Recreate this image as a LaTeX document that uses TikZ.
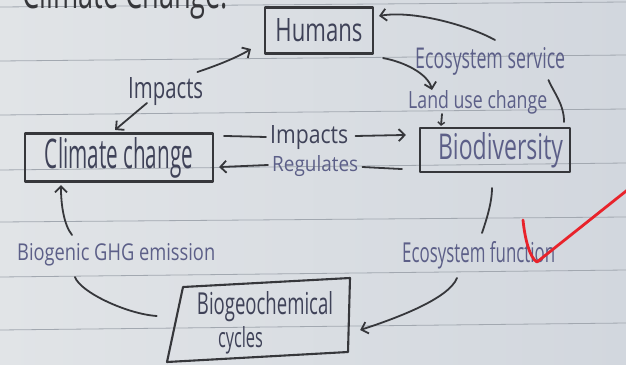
\documentclass[tikz,border=0pt]{standalone}
\usepackage{fontspec}
\setmainfont{Open Sans}
\usetikzlibrary{arrows.meta,calc}
\definecolor{paperL}{HTML}{E1E4E7}
\definecolor{paperR}{HTML}{D2D7DE}
\definecolor{rule}{HTML}{A2A8B0}
\definecolor{ink}{HTML}{36373B}
\definecolor{inkA}{HTML}{3F4258}
\definecolor{inkB}{HTML}{5C5F88}
\definecolor{redpen}{HTML}{E8232B}
\newcommand{\hw}[3]{\resizebox{#1pt}{#2pt}{#3}}
\begin{document}
\begin{tikzpicture}[x=1pt,y=-1pt,line cap=round,line join=round,
  box/.style={draw=ink,line width=2.1pt,rectangle,inner sep=0pt,text=inkA},
  lbl/.style={inner sep=0pt,anchor=base west,text=inkA},
  lblB/.style={lbl,text=inkB},
  conn/.style={draw=ink,line width=1.8pt},
  arr/.style={conn,-{Straight Barb[length=6pt,width=12pt,line width=1.8pt]}}]
\useasboundingbox (0,0) rectangle (626,364);
\begin{scope}
\clip (0,0) rectangle (626,364);
\fill[left color=paperL,right color=paperR] (0,0) rectangle (626,364);
\foreach \a/\b in {7/2,61/55,115/109,170/163,222/217,277/270,330/323}
  \draw[rule,line width=0.8pt] (0,\a) -- (626,\b);

% title (cut off at the top of the page)
\node[lbl,text=ink] (title) at (22,8) {\hw{206}{34}{Climate Change.}};

% boxes
\node[box,minimum width=108pt,minimum height=46pt] (humans) at (319,30.5) {\hw{87}{23}{Humans}};
\node[box,minimum width=188pt,minimum height=48pt] (climate) at (119,157.5) {\hw{148}{31}{Climate change}};
\node[box,minimum width=150pt,minimum height=44pt,text=inkB] (bio) at (495,150) {\hspace*{11pt}\hw{125}{27}{Biodiversity}};
\node[inner sep=0pt,minimum width=170pt,minimum height=75pt,align=center,text=inkA,
  font=\fontsize{10}{33}\selectfont] (bgc) at (265,323)
  {\hw{136}{23}{Biogeochemical}\\\hw{45}{21}{cycles}\hspace*{49pt}};
\draw[ink,line width=2.1pt] (183,287) -- (350,278) -- (348,352) -- (167,362) -- cycle;

% labels
\node[lbl] (imp1) at (128,98) {\hw{75}{21}{Impacts}};
\node[lbl] (imp2) at (270,143) {\hw{78}{18}{Impacts}};
\node[lblB] (reg) at (272,171) {\hw{86}{16}{Regulates}};
\node[lblB] (es) at (415,68) {\hw{150}{21}{Ecosystem service}};
\node[lblB] (lu) at (408,108) {\hw{139}{18}{Land use change}};
\node[lblB] (bge) at (17,260) {\hw{198}{17}{Biogenic GHG emission}};
\node[lblB] (ef) at (402,262) {\hw{153}{21}{Ecosystem function}};

% connectors
\draw[arr] ($(imp1.base east)+(-6,-26)$) .. controls +(18,-6) and +(-15,9) .. ($(humans.south west)+(-13,-5.5)$);
\draw[arr] ($(imp1.base west)+(19,5)$) -- ($(climate.north)+(-4,-2.5)$);

\draw[conn] ($(climate.north east)+(10,3.5)$) -- ($(imp2.base west)+(-4,-6)$);
\draw[arr] ($(imp2.base east)+(7,-7)$) -- ($(bio.north west)+(-13,8)$);

\draw[conn] ($(bio.south west)+(-17,-4)$) -- ($(reg.base east)+(4,-4)$);
\draw[arr] ($(reg.base west)+(-4,-6)$) -- ($(climate.south east)+(5,-15.5)$);

\draw[arr] ($(humans.south east)+(9,3.5)$) .. controls +(22,4) and +(-4,-16) .. ($(lu.base west)+(24,-18)$);
\draw[conn,-{Straight Barb[length=3pt,width=7pt,line width=1.4pt]}] ($(lu.base west)+(34,6)$) -- ($(bio.north west)+(22,-1)$);

\draw[conn] ($(bio.north east)+(-7,-5)$) .. controls +(0,-18) and +(5,12) .. ($(es.base east)+(-17,12)$);
\draw[arr] ($(es.base west)+(80,-28)$) .. controls +(-25,-14) and +(35,-6) .. ($(humans.north east)+(5,9.5)$);

\draw[conn] ($(bio.south)+(-3,15)$) .. controls +(0,15) and +(4,-12) .. ($(ef.base west)+(80,-29)$);
\draw[arr] ($(ef.base west)+(55,16)$) .. controls +(-8,20) and +(40,-13) .. ($(bgc.east)+(10,7)$);

\draw[conn] ($(bgc.west)+(-23,-7)$) .. controls +(-30,-2) and +(5,15) .. ($(bge.base west)+(58,17)$);
\draw[arr] ($(bge.base west)+(55,-25)$) .. controls +(-8,-10) and +(0,20) .. ($(climate.south west)+(37,2.5)$);

% red check mark
\draw[redpen,line width=2.8pt] (523,220) .. controls (525,240) and (530,258) .. (537,262) -- (650,172);
\end{scope}
\end{tikzpicture}
\end{document}
